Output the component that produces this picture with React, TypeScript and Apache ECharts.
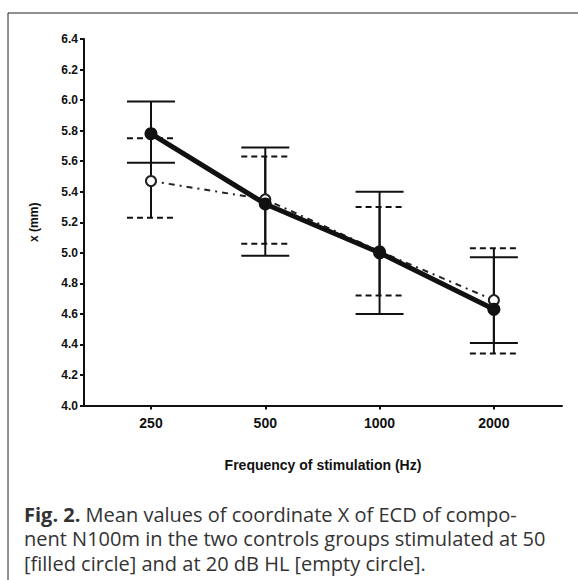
import React, { useEffect, useRef } from "react";
import * as echarts from "echarts";

const frequencies = ["250", "500", "1000", "2000"];
const positions = [0, 1, 2, 3];
const yTicks = { min: 4.0, max: 6.4, step: 0.2 };

// filled circle (50 dB)
const filledMean = [5.78, 5.32, 5.0, 4.63];
const filledLow = [5.59, 4.98, 4.6, 4.41];
const filledHigh = [5.99, 5.69, 5.4, 4.97];

// empty circle (20 dB HL)
const emptyMean = [5.47, 5.35, 5.01, 4.69];
const emptyLow = [5.23, 5.06, 4.72, 4.34];
const emptyHigh = [5.75, 5.63, 5.3, 5.03];

const captionLines = [
  "{b|Fig. 2.} Mean values of coordinate X of ECD of compo-",
  "nent N100m in the two controls groups stimulated at 50",
  "[filled circle] and at 20 dB HL [empty circle].",
];

const axisFont = "Liberation Sans";

function makeErrorSeries(name: string, low: number[], high: number[], dashed: boolean) {
  return {
    name,
    type: "custom",
    z: 3,
    data: positions.map((p, i) => [p, low[i], high[i]]),
    renderItem: (params: any, api: any) => {
      const x = api.value(0);
      const lo = api.coord([x, api.value(1)]);
      const hi = api.coord([x, api.value(2)]);
      const hw = 24;
      const capStyle = {
        stroke: "#111",
        lineWidth: 2,
        lineDash: dashed ? [6, 4] : null,
      };
      return {
        type: "group",
        children: [
          { type: "line", shape: { x1: lo[0], y1: lo[1], x2: hi[0], y2: hi[1] }, style: { stroke: "#111", lineWidth: 2 } },
          { type: "line", shape: { x1: lo[0] - hw, y1: lo[1], x2: lo[0] + hw, y2: lo[1] }, style: capStyle },
          { type: "line", shape: { x1: hi[0] - hw, y1: hi[1], x2: hi[0] + hw, y2: hi[1] }, style: capStyle },
        ],
      };
    },
  };
}

export default function App() {
  const ref = useRef<HTMLDivElement>(null);
  useEffect(() => {
    document.body.style.margin = "0";
    const chart = echarts.init(ref.current!, null, { renderer: "svg" });
    chart.setOption({
      animation: false,
      backgroundColor: "#fff",
      grid: { left: 84, right: 16, top: 39, bottom: 174.5, containLabel: false },
      xAxis: {
        type: "value",
        min: -0.586,
        max: 3.596,
        name: "Frequency of stimulation (Hz)",
        nameLocation: "middle",
        nameGap: 52,
        nameTextStyle: { fontFamily: axisFont, fontWeight: "bold", fontSize: 14, color: "#111" },
        splitLine: { show: false },
        axisLine: { onZero: false, lineStyle: { color: "#111", width: 2 } },
        axisTick: { customValues: positions, length: 4, lineStyle: { color: "#111", width: 2 } },
        axisLabel: {
          customValues: positions,
          formatter: (v: number) => frequencies[Math.round(v)],
          fontFamily: axisFont,
          fontWeight: "bold",
          fontSize: 14,
          color: "#111",
          margin: 10,
        },
      },
      yAxis: {
        type: "value",
        min: yTicks.min,
        max: yTicks.max,
        interval: yTicks.step,
        name: "x (mm)",
        nameLocation: "middle",
        nameGap: 44,
        nameRotate: 90,
        nameTextStyle: { fontFamily: axisFont, fontWeight: "bold", fontSize: 12, color: "#111" },
        splitLine: { show: false },
        axisLine: { show: true, onZero: false, lineStyle: { color: "#111", width: 2 } },
        axisTick: { show: true, length: 4, lineStyle: { color: "#111", width: 2 } },
        axisLabel: {
          formatter: (v: number) => v.toFixed(1),
          fontFamily: axisFont,
          fontWeight: "bold",
          fontSize: 12,
          color: "#111",
          margin: 6,
        },
      },
      series: [
        makeErrorSeries("filledErr", filledLow, filledHigh, false),
        makeErrorSeries("emptyErr", emptyLow, emptyHigh, true),
        {
          name: "20 dB HL",
          type: "line",
          z: 4,
          data: positions.map((p, i) => [p, emptyMean[i]]),
          symbol: "emptyCircle",
          symbolSize: 10,
          lineStyle: { color: "#222", width: 2, type: [6, 5, 2, 5] },
          itemStyle: { color: "#222", borderWidth: 2.5 },
        },
        {
          name: "50 dB",
          type: "line",
          z: 5,
          data: positions.map((p, i) => [p, filledMean[i]]),
          symbol: "circle",
          symbolSize: 13,
          lineStyle: { color: "#111", width: 5 },
          itemStyle: { color: "#111" },
        },
      ],
      graphic: [
        {
          type: "rect",
          shape: { x: 8, y: 13, width: 620, height: 620 },
          style: { fill: "none", stroke: "#222", lineWidth: 1 },
          silent: true,
        },
        ...captionLines.map((t, i) => ({
          type: "text",
          x: 24,
          y: 514 + i * 24.5,
          style: {
            text: t,
            fontFamily: "Open Sans",
            fontSize: 20,
            lineHeight: 21,
            fill: "#333",
            verticalAlign: "middle",
            rich: { b: { fontFamily: "Open Sans", fontSize: 20, lineHeight: 21, fontWeight: "bold", fill: "#333" } },
          },
        })),
      ],
    });
    return () => chart.dispose();
  }, []);
  return <div ref={ref} style={{ width: 578, height: 580 }} />;
}
